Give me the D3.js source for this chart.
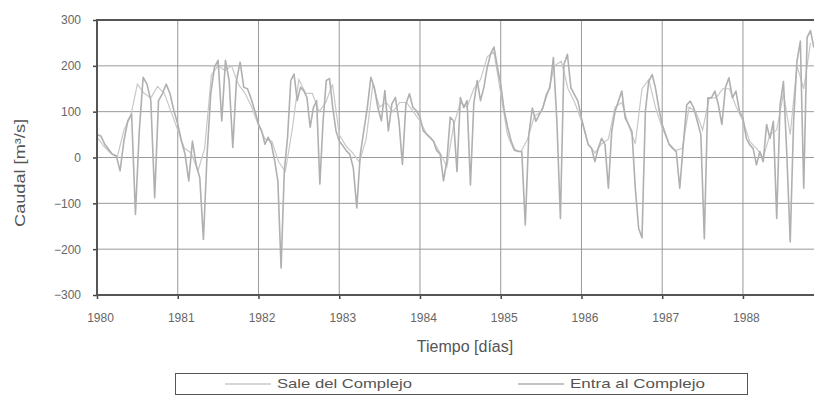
<!DOCTYPE html>
<html>
<head>
<meta charset="utf-8">
<script src="https://cdn.jsdelivr.net/npm/d3@7/dist/d3.min.js"></script>
<style>
  body { margin: 0; background: #fff; }
  text { font-family: "Liberation Sans", Arial, sans-serif; }
</style>
</head>
<body>
<div id="chart"></div>
<script>
// years shown on the axis, one row of readings per year
const years = [1980, 1981, 1982, 1983, 1984, 1985, 1986, 1987, 1988];
const yTicks = [-300, -200, -100, 0, 100, 200, 300];
const lastYearSpan = 0.92; // record stops before the end of 1988

// Entra al Complejo (m3/s), evenly spread inside each year
const entra = [
  [50, 47, 29, 18, 7, 4, -29, 36, 80, 95, -124, 58, 175, 160, 124, -88, 124, 139, 160, 139, 102],
  [73, 36, 7, -51, 36, -15, -44, -179, 7, 139, 197, 212, 80, 212, 168, 22, 168, 208, 153, 150, 128, 102],
  [73, 58, 29, 44, 29, -7, -51, -241, -29, 44, 168, 182, 124, 153, 146, 131, 66, 109, 124, -58, 80, 168, 172, 109, 58],
  [36, 26, 15, 7, -22, -110, 7, 58, 109, 175, 153, 109, 80, 146, 58, 117, 131, 80, -15, 117, 139, 109, 102],
  [88, 58, 51, 44, 36, 15, 7, -51, -7, 88, 80, -31, 131, 109, 124, -60, 117, 168, 124, 153, 197, 226, 241, 197],
  [160, 102, 65, 35, 17, 13, 13, -147, 50, 108, 79, 94, 108, 137, 152, 218, 79, -133, 203, 225, 152, 137, 123],
  [86, 57, 28, 20, -9, 20, 42, 28, -67, 57, 101, 123, 145, 86, 72, 57, -67, -155, -175, 101, 166, 181, 152, 108],
  [72, 50, 28, 20, 13, -67, 28, 115, 123, 108, 79, 50, -177, 130, 130, 145, 115, 72, 152, 174, 130, 145, 101],
  [86, 42, 28, 20, -16, 13, -9, 72, 42, 79, -133, 115, 166, 6, -184, 79, 210, 254, -67, 262, 277, 240]
];

// Sale del Complejo (m3/s), monthly readings
const sale = [
  [45, 25, 10, 0, 60, 90, 160, 140, 130, 155, 140, 100],
  [60, 20, 10, -30, 20, 180, 200, 190, 200, 160, 140, 110],
  [70, 40, 35, -10, -30, 60, 170, 140, 140, 100, 120, 160],
  [50, 25, 10, -10, 40, 160, 110, 120, 100, 120, 120, 100],
  [80, 50, 35, 10, -20, 70, 120, 110, 150, 170, 220, 230],
  [140, 50, 15, 13, 40, 90, 100, 140, 200, 210, 150, 120],
  [80, 30, 10, 30, 40, 110, 120, 70, 30, 150, 170, 110],
  [65, 30, 15, 20, 110, 100, 60, 130, 130, 150, 150, 110],
  [80, 35, 20, 0, 50, 60, 140, 50, 200, 150, 250]
];

const seriesNames = ['Sale del Complejo', 'Entra al Complejo'];

const dims = { width: 814, height: 398, left: 97, top: 20, right: 814, bottom: 295 };

function toPoints(rows) {
  return d3.merge(rows.map((vals, k) => {
    const span = k === rows.length - 1 ? lastYearSpan : 1;
    return vals.map((v, i) => ({ t: years[k] + i / vals.length * span, v: v }));
  }));
}

const svg = d3.select('#chart').append('svg')
  .attr('width', dims.width)
  .attr('height', dims.height);

const xScale = d3.scaleLinear()
  .domain([1980, 1988.88])
  .range([dims.left, dims.right]);

const yScale = d3.scaleLinear()
  .domain([-300, 300])
  .range([dims.bottom, dims.top]);

svg.append('defs').append('clipPath').attr('id', 'plot-clip')
  .append('rect')
  .attr('x', dims.left).attr('y', dims.top)
  .attr('width', dims.right - dims.left).attr('height', dims.bottom - dims.top);

// grid
const grid = svg.append('g').attr('stroke', '#9a9a9a').attr('stroke-width', 1);
grid.selectAll('line.h')
  .data(yTicks.filter(d => d > -300 && d < 300))
  .join('line')
  .attr('x1', dims.left).attr('x2', dims.right)
  .attr('y1', d => yScale(d)).attr('y2', d => yScale(d));
grid.selectAll('line.v')
  .data(years.slice(1))
  .join('line')
  .attr('x1', d => xScale(d)).attr('x2', d => xScale(d))
  .attr('y1', dims.top).attr('y2', dims.bottom);

// series
const line = d3.line()
  .x(d => xScale(d.t))
  .y(d => yScale(d.v));

const plot = svg.append('g').attr('clip-path', 'url(#plot-clip)');
plot.append('path')
  .datum(toPoints(sale))
  .attr('fill', 'none')
  .attr('stroke', '#c8c8c8')
  .attr('stroke-width', 1.2)
  .attr('d', line);
plot.append('path')
  .datum(toPoints(entra))
  .attr('fill', 'none')
  .attr('stroke', '#b0b0b0')
  .attr('stroke-width', 1.6)
  .attr('stroke-linejoin', 'round')
  .attr('d', line);

// axes
const yAxis = d3.axisLeft(yScale).tickValues(yTicks).tickSize(4).tickPadding(12);
const yG = svg.append('g')
  .attr('transform', `translate(${dims.left},0)`)
  .call(yAxis);
const xAxis = d3.axisBottom(xScale).tickValues(years).tickFormat(d3.format('d')).tickSize(4).tickPadding(14);
const xG = svg.append('g')
  .attr('transform', `translate(0,${dims.bottom})`)
  .call(xAxis);

[yG, xG].forEach(g => {
  g.select('.domain').remove();
  g.selectAll('.tick line').attr('stroke', '#444').attr('stroke-width', 1.5);
  g.selectAll('.tick text').attr('fill', '#666').style('font-size', '12px');
});
xG.selectAll('.tick text').attr('dx', 3);

// frame: left, bottom and top
svg.append('path')
  .attr('fill', 'none')
  .attr('stroke', '#555')
  .attr('stroke-width', 2)
  .attr('d', `M${dims.right},${dims.top}H${dims.left}V${dims.bottom}H${dims.right}`);

// titles
svg.append('text')
  .attr('transform', 'translate(25,173) rotate(-90)')
  .attr('text-anchor', 'middle')
  .attr('fill', '#555')
  .style('font-size', '14px')
  .attr('textLength', 108)
  .attr('lengthAdjust', 'spacingAndGlyphs')
  .text('Caudal [m³/s]');

svg.append('text')
  .attr('x', 465).attr('y', 352)
  .attr('text-anchor', 'middle')
  .attr('fill', '#555')
  .style('font-size', '16px')
  .text('Tiempo [días]');

// legend
const legend = svg.append('g');
legend.append('rect')
  .attr('x', 175.5).attr('y', 373.5)
  .attr('width', 572).attr('height', 21)
  .attr('fill', '#fff')
  .attr('stroke', '#555');

const legendItems = [
  { name: seriesNames[0], x: 225, color: '#c8c8c8' },
  { name: seriesNames[1], x: 518, color: '#b0b0b0' }
];
const li = legend.selectAll('g.item').data(legendItems).join('g');
li.append('line')
  .attr('x1', d => d.x).attr('x2', d => d.x + 46)
  .attr('y1', 384).attr('y2', 384)
  .attr('stroke', d => d.color).attr('stroke-width', 1.5);
li.append('text')
  .attr('x', d => d.x + 52).attr('y', 388)
  .attr('fill', '#555')
  .style('font-size', '13px')
  .attr('textLength', 135)
  .attr('lengthAdjust', 'spacingAndGlyphs')
  .text(d => d.name);
</script>
</body>
</html>
